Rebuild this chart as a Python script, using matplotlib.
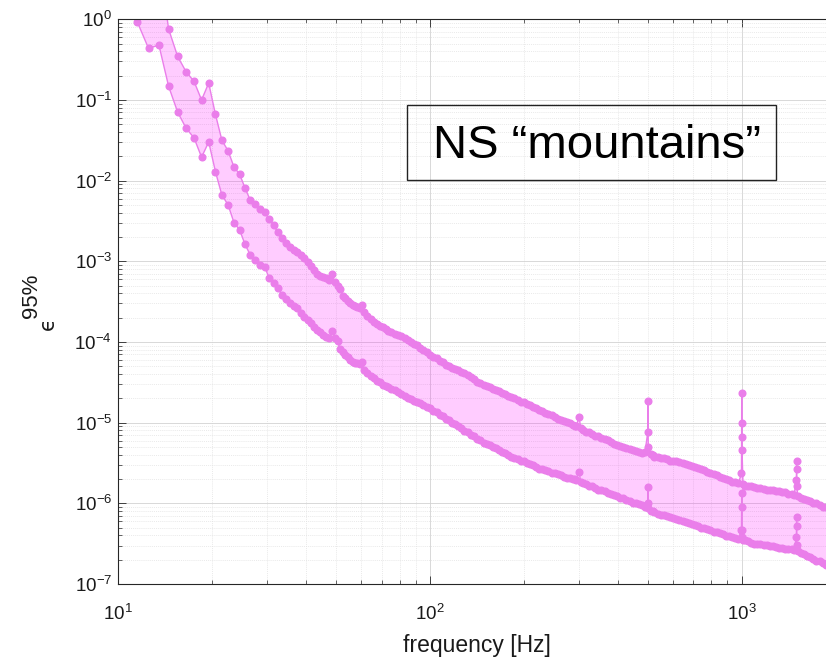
import numpy as np
import matplotlib
matplotlib.use("Agg")
import matplotlib.pyplot as plt
from matplotlib.patches import Rectangle
from matplotlib.ticker import LogLocator, NullFormatter

# Frequency bins [Hz]: 1 Hz bins at low frequency, denser sampling of the smooth part above
freq_hz = [
    10.5, 11.5, 12.5, 13.5, 14.5, 15.5, 16.5, 17.5, 18.5, 19.5,
    20.5, 21.5, 22.5, 23.5, 24.5, 25.5, 26.5, 27.5, 28.5, 29.5,
    30.5, 31.5, 32.5, 33.5, 34.5, 35.5, 36.5, 37.5, 38.5, 39.5,
    40.5, 41.5, 42.5, 43.5, 44.5, 45.5, 46.5, 47.5, 48.5, 49.5,
    50.5, 51.5, 52.5, 53.5, 54.5, 55.5, 56.5, 57.5, 58.5, 59.5,
    60.5, 61.5,
    63, 64.5, 66, 67.5, 69, 70.5, 72, 73.5, 75, 77,
    79, 81, 83, 85, 87, 89, 91, 93, 95, 97.5,
    100, 102.5, 105, 107.5, 110, 112.5, 115, 117.5, 120, 123,
    126, 129, 132, 135, 138, 141.5, 145, 148.5, 152, 155.5,
    159, 162.5, 166, 170, 174, 178, 182, 186.5, 191, 195.5,
    200, 204.5, 209, 214, 219, 224, 229, 234.5, 240, 245.5,
    251, 257, 263, 269, 275, 281.5, 288, 291.5, 295, 300.5,
    305, 310.5, 316, 323.5, 331, 339, 347, 355, 363, 371.5,
    380, 389, 398, 407.5, 417, 427, 437, 447, 457, 468,
    479, 490, 499.5, 500.5, 501.5, 510, 517.5, 525, 537.5, 550,
    562.5, 575, 589, 603, 617, 631, 646, 661, 676.5, 692,
    708, 724, 741, 758, 776, 794, 812.5, 831, 850.5, 870,
    890.5, 911, 932.5, 954, 976, 998.5, 999.5, 1000.5, 1001.5, 1002.5,
    1010, 1028.5, 1047, 1071.5, 1096, 1122, 1148, 1175, 1202, 1230.5,
    1259, 1288.5, 1318, 1349, 1380, 1412.5, 1445, 1472, 1498.5, 1499.5,
    1500.5, 1501.5, 1514, 1549.5, 1585, 1622.5, 1660, 1699, 1738, 1779,
    1820, 1860, 1900,
]

# log10 of the upper edge of the epsilon^95% band
eps_upper_log10 = [
    1.60, 1.40, 1.20, 0.74, -0.12, -0.46, -0.65, -0.77, -1.00, -0.79,
    -1.18, -1.50, -1.63, -1.83, -1.92, -2.09, -2.24, -2.29, -2.35, -2.39,
    -2.48, -2.55, -2.64, -2.71, -2.77, -2.82, -2.86, -2.88, -2.92, -2.96,
    -3.01, -3.06, -3.11, -3.16, -3.18, -3.19, -3.21, -3.23, -3.16, -3.26,
    -3.31, -3.34, -3.43, -3.46, -3.49, -3.52, -3.54, -3.55, -3.57, -3.58,
    -3.54, -3.63,
    -3.68, -3.72, -3.75, -3.78, -3.80, -3.82, -3.84, -3.86, -3.88, -3.90,
    -3.91, -3.93, -3.95, -3.98, -4.00, -4.02, -4.04, -4.07, -4.10, -4.13,
    -4.16, -4.18, -4.20, -4.23, -4.25, -4.28, -4.30, -4.32, -4.34, -4.35,
    -4.37, -4.39, -4.41, -4.44, -4.46, -4.49, -4.51, -4.53, -4.55, -4.56,
    -4.58, -4.60, -4.61, -4.63, -4.65, -4.67, -4.68, -4.70, -4.72, -4.74,
    -4.75, -4.77, -4.78, -4.80, -4.82, -4.84, -4.86, -4.88, -4.89, -4.91,
    -4.93, -4.95, -4.97, -4.98, -4.99, -5.01, -5.03, -5.04, -5.04, -4.93,
    -5.07, -5.09, -5.11, -5.12, -5.14, -5.16, -5.17, -5.19, -5.20, -5.22,
    -5.24, -5.26, -5.28, -5.29, -5.30, -5.32, -5.33, -5.34, -5.35, -5.36,
    -5.37, -5.36, -5.12, -4.73, -5.30, -5.39, -5.40, -5.42, -5.43, -5.44,
    -5.44, -5.45, -5.47, -5.48, -5.48, -5.49, -5.50, -5.51, -5.53, -5.54,
    -5.55, -5.56, -5.58, -5.59, -5.61, -5.63, -5.64, -5.65, -5.67, -5.68,
    -5.70, -5.71, -5.73, -5.74, -5.75, -5.63, -5.18, -4.63, -5.01, -5.34,
    -5.76, -5.78, -5.79, -5.79, -5.80, -5.81, -5.81, -5.82, -5.83, -5.83,
    -5.84, -5.85, -5.85, -5.86, -5.86, -5.88, -5.89, -5.90, -5.71, -5.58,
    -5.48, -5.78, -5.91, -5.93, -5.95, -5.96, -5.97, -5.99, -6.00, -6.02,
    -6.04, -6.05, -6.06,
]

# log10 of the lower edge of the epsilon^95% band
eps_lower_log10 = [
    0.37, -0.03, -0.36, -0.32, -0.83, -1.15, -1.35, -1.47, -1.71, -1.52,
    -1.89, -2.18, -2.30, -2.52, -2.61, -2.79, -2.92, -2.98, -3.05, -3.07,
    -3.21, -3.27, -3.33, -3.42, -3.47, -3.52, -3.55, -3.58, -3.64, -3.69,
    -3.73, -3.77, -3.82, -3.85, -3.88, -3.91, -3.94, -3.95, -3.86, -3.95,
    -3.99, -4.09, -4.13, -4.16, -4.19, -4.22, -4.25, -4.26, -4.26, -4.27,
    -4.25, -4.35,
    -4.39, -4.42, -4.45, -4.48, -4.50, -4.53, -4.55, -4.56, -4.58, -4.60,
    -4.62, -4.65, -4.67, -4.69, -4.71, -4.73, -4.75, -4.76, -4.78, -4.80,
    -4.82, -4.85, -4.87, -4.90, -4.92, -4.95, -4.97, -5.00, -5.02, -5.04,
    -5.07, -5.10, -5.12, -5.15, -5.17, -5.20, -5.22, -5.25, -5.27, -5.28,
    -5.30, -5.32, -5.34, -5.36, -5.38, -5.40, -5.42, -5.44, -5.45, -5.47,
    -5.48, -5.50, -5.51, -5.53, -5.55, -5.57, -5.58, -5.59, -5.60, -5.62,
    -5.63, -5.64, -5.65, -5.67, -5.68, -5.69, -5.70, -5.70, -5.71, -5.61,
    -5.74, -5.75, -5.76, -5.78, -5.79, -5.81, -5.83, -5.84, -5.85, -5.87,
    -5.89, -5.90, -5.91, -5.93, -5.94, -5.96, -5.97, -5.99, -6.00, -6.01,
    -6.02, -6.04, -6.00, -5.80, -6.06, -6.09, -6.10, -6.11, -6.13, -6.14,
    -6.15, -6.16, -6.17, -6.18, -6.20, -6.21, -6.22, -6.23, -6.25, -6.26,
    -6.27, -6.28, -6.30, -6.31, -6.32, -6.33, -6.35, -6.36, -6.37, -6.38,
    -6.40, -6.41, -6.42, -6.43, -6.44, -6.33, -6.04, -5.87, -6.33, -6.42,
    -6.46, -6.46, -6.47, -6.49, -6.50, -6.50, -6.51, -6.52, -6.52, -6.53,
    -6.53, -6.54, -6.55, -6.55, -6.56, -6.56, -6.57, -6.58, -6.42, -6.28,
    -6.17, -6.52, -6.59, -6.61, -6.63, -6.65, -6.67, -6.69, -6.71, -6.72,
    -6.74, -6.76, -6.77,
]

plt.rcParams["font.family"] = ["Liberation Sans", "DejaVu Sans"]
plt.rcParams["axes.unicode_minus"] = False

W, H = 826, 662
fig = plt.figure(figsize=(W / 100, H / 100), dpi=100)
ax_left, ax_right, ax_top, ax_bottom = 118.3, 835.5, 19.3, 584.0
ax = fig.add_axes([ax_left / W, 1 - ax_bottom / H,
                   (ax_right - ax_left) / W, (ax_bottom - ax_top) / H])

f = np.array(freq_hz)
upper = 10.0 ** np.array(eps_upper_log10)
lower = 10.0 ** np.array(eps_lower_log10)

line_c = "#ea7eea"
ax.fill_between(f, lower, upper, facecolor="#ff00ff", alpha=0.2,
                linewidth=0, zorder=1)
for curve in (upper, lower):
    ax.plot(f, curve, "-o", color=line_c, mfc=line_c, mec=line_c,
            ms=4.8, lw=1.0, zorder=2)

ax.set_xscale("log")
ax.set_yscale("log")
ax.set_xlim(10, 2000)
ax.set_ylim(1e-7, 1)

for axis in (ax.xaxis, ax.yaxis):
    axis.set_major_locator(LogLocator(base=10, numticks=20))
    axis.set_minor_locator(LogLocator(base=10, subs=np.arange(2, 10), numticks=20))
    axis.set_minor_formatter(NullFormatter())

ax.set_axisbelow(True)
ax.grid(True, which="major", color="#d2d2d2", lw=0.6)
ax.grid(True, which="minor", color="#e2e2e2", lw=0.5, ls=(0, (1.5, 1.5)))

for sp in ax.spines.values():
    sp.set_color("#262626")
    sp.set_linewidth(0.8)

ax.tick_params(which="both", direction="in", top=True, right=True,
               color="#262626", labelcolor="#1a1a1a")
ax.tick_params(which="major", length=6, width=0.6)
ax.tick_params(which="minor", length=3, width=0.5)
ax.tick_params(axis="x", which="major", pad=14, labelsize=13.5)
ax.tick_params(axis="y", which="major", pad=4.5, labelsize=13.5)

# axis labels
fig.text(476.7 / W, 1 - 652 / H, "frequency [Hz]", fontsize=16.5,
         ha="center", va="baseline", color="#1a1a1a")
fig.text(31 / W, 1 - 296 / H, "95%", fontsize=16, rotation=90,
         ha="center", va="center", color="#1a1a1a")
fig.text(48 / W, 1 - 324 / H, "\u03f5", fontsize=15, rotation=90,
         ha="center", va="center", color="#1a1a1a", family="DejaVu Sans")

# annotation box
bx0, by0, bx1, by1 = 407, 105, 776, 180
fig.add_artist(Rectangle((bx0 / W, 1 - by1 / H), (bx1 - bx0) / W, (by1 - by0) / H,
                         transform=fig.transFigure, fill=False,
                         edgecolor="#222222", linewidth=1.0))
fig.text(596.7 / W, 1 - 158.3 / H, "NS \u201cmountains\u201d", fontsize=34,
         ha="center", va="baseline", color="black")

fig.savefig("out.png", dpi=100)
